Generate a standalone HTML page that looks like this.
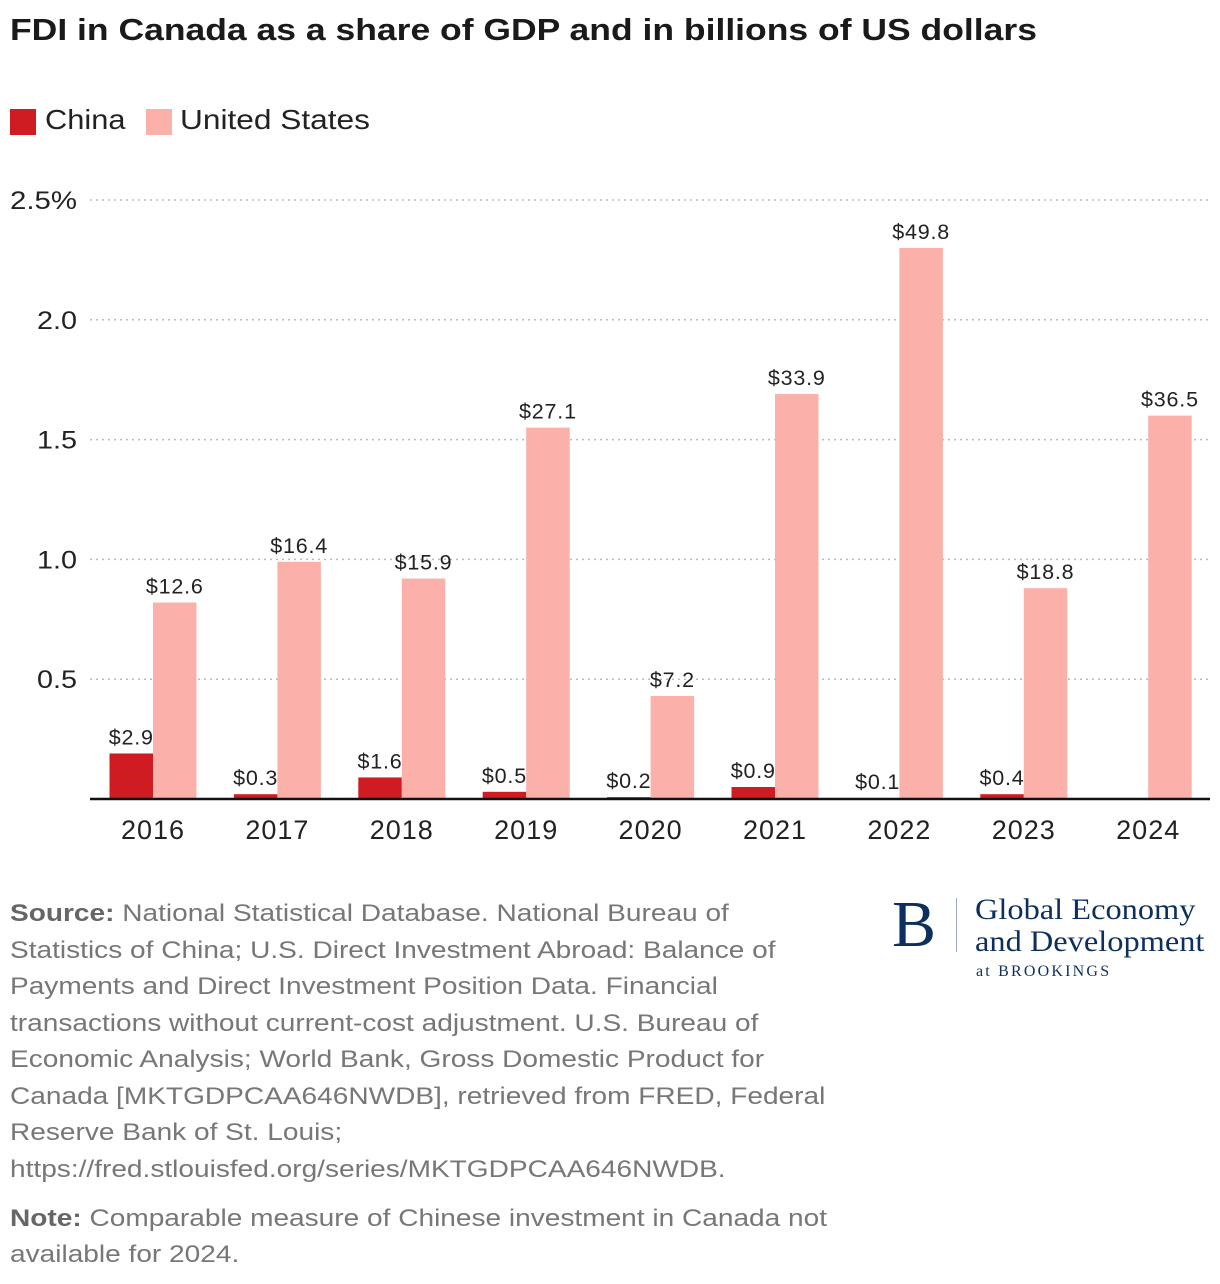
<!DOCTYPE html>
<html><head><meta charset="utf-8"><style>
body{margin:0;background:#fff;width:1220px;height:1284px;overflow:hidden;font-family:"Liberation Sans",sans-serif;color:#222}
.title{position:absolute;left:10px;top:12px;font-size:31px;font-weight:bold;color:#1a1a1a;white-space:nowrap;transform:scaleX(1.145);transform-origin:0 0}
.leg{position:absolute;top:104px;font-size:28px;display:flex;align-items:center;white-space:nowrap}
.sw{position:absolute;top:109px;width:26px;height:26px}
.ln{position:absolute;left:10px;font-size:24.5px;color:#777;white-space:nowrap;transform:scaleX(1.145);transform-origin:0 0}
.ln b{color:#666}
.logo{position:absolute;left:892px;top:890px;font-family:"Liberation Serif",serif;color:#0d2f5e}
</style></head><body>
<div class="title">FDI in Canada as a share of GDP and in billions of US dollars</div>
<div class="sw" style="left:10px;background:#cf1c22"></div>
<div class="leg" style="left:45px;transform:scaleX(1.1);transform-origin:0 0">China</div>
<div class="sw" style="left:146px;background:#fbb0aa"></div>
<div class="leg" style="left:180px;transform:scaleX(1.13);transform-origin:0 0">United States</div>
<svg id="chart" width="1220" height="870" style="position:absolute;left:0;top:0"></svg>
<div>
<div class="ln" style="top:900px"><b>Source:</b> National Statistical Database. National Bureau of</div>
<div class="ln" style="top:936.5px">Statistics of China; U.S. Direct Investment Abroad: Balance of</div>
<div class="ln" style="top:973px">Payments and Direct Investment Position Data. Financial</div>
<div class="ln" style="top:1009.5px">transactions without current-cost adjustment. U.S. Bureau of</div>
<div class="ln" style="top:1046px">Economic Analysis; World Bank, Gross Domestic Product for</div>
<div class="ln" style="top:1082.5px">Canada [MKTGDPCAA646NWDB], retrieved from FRED, Federal</div>
<div class="ln" style="top:1119px">Reserve Bank of St. Louis;</div>
<div class="ln" style="top:1155.5px">https://fred.stlouisfed.org/series/MKTGDPCAA646NWDB.</div>
</div>
<div>
<div class="ln" style="top:1205px"><b>Note:</b> Comparable measure of Chinese investment in Canada not</div>
<div class="ln" style="top:1241px">available for 2024.</div>
</div>
<div class="logo">
<div style="position:absolute;left:0;top:0;font-size:66px;line-height:70px">B</div>
<div style="position:absolute;left:64px;top:8px;width:1px;height:54px;background:#9aa8bd"></div>
<div style="position:absolute;left:83px;top:4px;font-size:30px;line-height:32px;white-space:nowrap;transform:scaleX(1.08);transform-origin:0 0">Global Economy<br>and Development</div>
<div style="position:absolute;left:84px;top:73px;font-size:16px;white-space:nowrap;letter-spacing:2.2px">at BROOKINGS</div>
</div>
<script>
const years=["2016","2017","2018","2019","2020","2021","2022","2023","2024"];
const usShare=[0.82,0.99,0.92,1.55,0.43,1.69,2.30,0.88,1.60];
const chinaShare=[0.19,0.02,0.09,0.03,0.008,0.05,0.004,0.02,null];
const usLabels=["$12.6","$16.4","$15.9","$27.1","$7.2","$33.9","$49.8","$18.8","$36.5"];
const chinaLabels=["$2.9","$0.3","$1.6","$0.5","$0.2","$0.9","$0.1","$0.4",""];
const yTicks=[0.5,1.0,1.5,2.0,2.5];
const yTickLabels=["0.5","1.0","1.5","2.0","2.5%"];
const svg=document.getElementById('chart');const NS='http://www.w3.org/2000/svg';
const y0=799,pxPer=239.6,x0=153,step=124.4,bw=43.5;
const y=v=>y0-v*pxPer, xc=i=>x0+i*step;
function mk(t,a,txt){const e=document.createElementNS(NS,t);for(const k in a)e.setAttribute(k,a[k]);if(txt!=null)e.textContent=txt;svg.appendChild(e);return e;}
yTicks.forEach((v,i)=>{
const g=mk('line',{x1:90,x2:1210,y1:y(v),y2:y(v),stroke:'#bbb','stroke-width':1.5,'stroke-dasharray':'2,4'});


const t=mk('text',{x:77,y:y(v)+9,'text-anchor':'end','font-size':25,fill:'#222',textLength:v===2.5?67:40,lengthAdjust:'spacingAndGlyphs'},yTickLabels[i]);


});
years.forEach((yr,i)=>{
const c=xc(i);
if(chinaShare[i]!=null){
const r=mk('rect',{x:c-bw,y:y(chinaShare[i]),width:bw,height:chinaShare[i]*pxPer,fill:'#cf1c22'});


const l=mk('text',{x:c-bw/2,y:y(chinaShare[i])-9,'text-anchor':'middle','font-size':21.5,fill:'#222','letter-spacing':0.8},chinaLabels[i]);


}
const r2=mk('rect',{x:c,y:y(usShare[i]),width:bw,height:usShare[i]*pxPer,fill:'#fbb0aa'});


const l2=mk('text',{x:c+bw/2,y:y(usShare[i])-9,'text-anchor':'middle','font-size':21.5,fill:'#222','letter-spacing':0.8},usLabels[i]);


const xt=mk('text',{x:c,y:839,'text-anchor':'middle','font-size':27,fill:'#222','letter-spacing':1},yr);


});
const b=mk('line',{x1:90,x2:1210,y1:y0,y2:y0,stroke:'#111','stroke-width':2.5});


</script>
</body></html>
